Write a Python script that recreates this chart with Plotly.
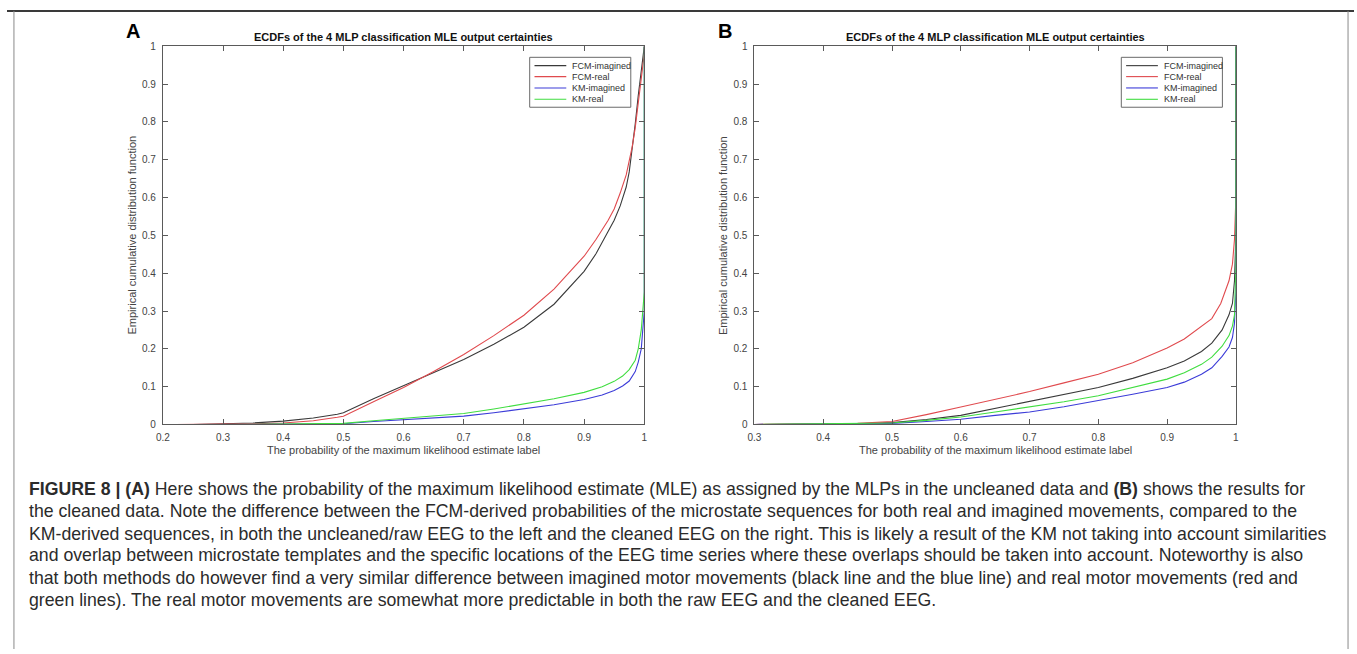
import plotly.graph_objects as go

# ---------------------------------------------------------------
# ECDF values of the MLE label probability, per method and movement
# ---------------------------------------------------------------
series_names = ["FCM-imagined", "FCM-real", "KM-imagined", "KM-real"]
series_colors = ["#3a3a3a", "#e04a4e", "#3c3cd8", "#40dd40"]

# Panel A: uncleaned / raw EEG
a_fcm_imag_x = [0.25, 0.30, 0.35, 0.40, 0.45, 0.49, 0.50, 0.55, 0.60, 0.65, 0.70, 0.75, 0.80,
                0.85, 0.90, 0.92, 0.94, 0.95, 0.96, 0.97, 0.975, 0.98, 0.985, 0.99, 0.995, 1.0]
a_fcm_imag_y = [0.0, 0.001, 0.004, 0.009, 0.017, 0.027, 0.031, 0.068, 0.103, 0.137, 0.172,
                0.212, 0.257, 0.318, 0.405, 0.452, 0.508, 0.540, 0.578, 0.628, 0.668, 0.725,
                0.795, 0.870, 0.940, 1.0]
a_fcm_real_x = [0.22, 0.30, 0.35, 0.40, 0.45, 0.49, 0.50, 0.55, 0.60, 0.65, 0.70, 0.75, 0.80,
                0.85, 0.90, 0.92, 0.94, 0.95, 0.96, 0.97, 0.975, 0.98, 0.985, 0.99, 0.995,
                1.0, 1.0]
a_fcm_real_y = [0.0, 0.0005, 0.002, 0.004, 0.010, 0.019, 0.022, 0.060, 0.098, 0.140, 0.185,
                0.235, 0.289, 0.358, 0.445, 0.490, 0.540, 0.570, 0.612, 0.660, 0.695, 0.735,
                0.785, 0.845, 0.910, 0.980, 1.0]
a_km_imag_x = [0.30, 0.40, 0.50, 0.55, 0.60, 0.65, 0.70, 0.75, 0.80, 0.85, 0.90, 0.93, 0.95,
               0.964, 0.975, 0.985, 0.99, 0.995, 1.0, 1.0]
a_km_imag_y = [0.0, 0.0005, 0.002, 0.008, 0.013, 0.017, 0.022, 0.031, 0.041, 0.052, 0.066,
               0.078, 0.090, 0.102, 0.115, 0.140, 0.165, 0.200, 0.300, 1.0]
a_km_real_x = [0.30, 0.40, 0.50, 0.55, 0.60, 0.65, 0.70, 0.75, 0.80, 0.85, 0.90, 0.93, 0.95,
               0.964, 0.975, 0.985, 0.99, 0.995, 1.0, 1.0]
a_km_real_y = [0.0, 0.0008, 0.003, 0.010, 0.016, 0.022, 0.029, 0.041, 0.054, 0.068, 0.085,
               0.100, 0.114, 0.128, 0.145, 0.170, 0.200, 0.250, 0.350, 1.0]

# Panel B: cleaned EEG
b_fcm_imag_x = [0.30, 0.40, 0.45, 0.50, 0.55, 0.60, 0.65, 0.70, 0.75, 0.80, 0.85, 0.90, 0.925,
                0.95, 0.965, 0.98, 0.99, 0.995, 0.998, 1.0, 1.0]
b_fcm_imag_y = [0.0, 0.0005, 0.002, 0.005, 0.013, 0.024, 0.043, 0.062, 0.080, 0.098, 0.122,
                0.150, 0.168, 0.193, 0.215, 0.250, 0.290, 0.320, 0.380, 0.500, 1.0]
b_fcm_real_x = [0.30, 0.40, 0.45, 0.50, 0.55, 0.60, 0.65, 0.70, 0.75, 0.80, 0.85, 0.90, 0.925,
                0.95, 0.965, 0.978, 0.99, 0.995, 0.998, 1.0, 1.0]
b_fcm_real_y = [0.0, 0.001, 0.003, 0.008, 0.026, 0.046, 0.066, 0.087, 0.110, 0.133, 0.163,
                0.202, 0.226, 0.259, 0.280, 0.320, 0.380, 0.424, 0.490, 0.600, 1.0]
b_km_imag_x = [0.30, 0.45, 0.50, 0.55, 0.60, 0.65, 0.70, 0.75, 0.80, 0.85, 0.90, 0.925, 0.95,
               0.965, 0.98, 0.99, 0.995, 0.998, 1.0, 1.0]
b_km_imag_y = [0.0, 0.001, 0.003, 0.008, 0.014, 0.024, 0.033, 0.047, 0.063, 0.080, 0.098,
               0.112, 0.133, 0.150, 0.180, 0.205, 0.230, 0.268, 0.350, 1.0]
b_km_real_x = [0.30, 0.45, 0.50, 0.55, 0.60, 0.65, 0.70, 0.75, 0.80, 0.85, 0.90, 0.925, 0.95,
               0.965, 0.98, 0.99, 0.995, 0.998, 1.0, 1.0]
b_km_real_y = [0.0, 0.002, 0.004, 0.011, 0.020, 0.033, 0.046, 0.060, 0.076, 0.097, 0.120,
               0.137, 0.159, 0.178, 0.207, 0.235, 0.260, 0.290, 0.420, 1.0]

y_ticks = [0, 0.1, 0.2, 0.3, 0.4, 0.5, 0.6, 0.7, 0.8, 0.9, 1]
y_tick_text = ["0", "0.1", "0.2", "0.3", "0.4", "0.5", "0.6", "0.7", "0.8", "0.9", "1"]
a_x_ticks = [0.2, 0.3, 0.4, 0.5, 0.6, 0.7, 0.8, 0.9, 1]
a_x_tick_text = ["0.2", "0.3", "0.4", "0.5", "0.6", "0.7", "0.8", "0.9", "1"]
b_x_ticks = [0.3, 0.4, 0.5, 0.6, 0.7, 0.8, 0.9, 1]
b_x_tick_text = ["0.3", "0.4", "0.5", "0.6", "0.7", "0.8", "0.9", "1"]

panel_title = "ECDFs of the 4 MLP classification MLE output certainties"
x_title = "The probability of the maximum likelihood estimate label"
y_title = "Empirical cumulative distribution function"

caption_lines = [
    "<b>FIGURE 8 | (A)</b> Here shows the probability of the maximum likelihood estimate (MLE) as assigned by the MLPs in the uncleaned data and <b>(B)</b> shows the results for",
    "the cleaned data. Note the difference between the FCM-derived probabilities of the microstate sequences for both real and imagined movements, compared to the",
    "KM-derived sequences, in both the uncleaned/raw EEG to the left and the cleaned EEG on the right. This is likely a result of the KM not taking into account similarities",
    "and overlap between microstate templates and the specific locations of the EEG time series where these overlaps should be taken into account. Noteworthy is also",
    "that both methods do however find a very similar difference between imagined motor movements (black line and the blue line) and real motor movements (red and",
    "green lines). The real motor movements are somewhat more predictable in both the raw EEG and the cleaned EEG.",
]

# ---------------------------------------------------------------
W, H = 1357, 654
FONT = "Liberation Sans, Arial, Helvetica, sans-serif"
AX_COL = "#5a5a5a"

def px_x(p):
    return p / W

def px_y(p):
    return 1 - p / H

fig = go.Figure()

panels = [
    dict(letter="A", xa="x", ya="y",
         data=[(a_fcm_imag_x, a_fcm_imag_y), (a_fcm_real_x, a_fcm_real_y),
               (a_km_imag_x, a_km_imag_y), (a_km_real_x, a_km_real_y)],
         xr=[0.2, 1], xt=a_x_ticks, xtt=a_x_tick_text, dom=[157, 642]),
    dict(letter="B", xa="x2", ya="y2",
         data=[(b_fcm_imag_x, b_fcm_imag_y), (b_fcm_real_x, b_fcm_real_y),
               (b_km_imag_x, b_km_imag_y), (b_km_real_x, b_km_real_y)],
         xr=[0.3, 1], xt=b_x_ticks, xtt=b_x_tick_text, dom=[753, 1238]),
]

y_dom = [px_y(426), px_y(42)]

for k, p in enumerate(panels):
    for (xs, ys), name, col in zip(p["data"], series_names, series_colors):
        fig.add_trace(go.Scatter(x=xs, y=ys, mode="lines", name=name,
                                 line=dict(color=col, width=1.1),
                                 xaxis=p["xa"], yaxis=p["ya"], showlegend=False))
    sfx = "" if k == 0 else "2"
    axis_common = dict(showline=True, linecolor=AX_COL, linewidth=1, mirror="ticks",
                       ticks="inside", ticklen=5, tickcolor=AX_COL, showgrid=False,
                       zeroline=False, tickfont=dict(family=FONT, size=10, color="#444444"))
    fig.update_layout(**{
        "xaxis" + sfx: dict(domain=[px_x(p["dom"][0]), px_x(p["dom"][1])], range=p["xr"],
                            tickvals=p["xt"], ticktext=p["xtt"], anchor="y" + sfx,
                            ticklabelstandoff=4, **axis_common),
        "yaxis" + sfx: dict(domain=y_dom, range=[0, 1], tickvals=y_ticks,
                            ticktext=y_tick_text, anchor="x" + sfx,
                            ticklabelstandoff=4, **axis_common),
    })

    xd = p["xa"] + " domain"
    yd = p["ya"] + " domain"
    # panel title
    fig.add_annotation(text="<b>" + panel_title + "</b>", xref=xd, yref="paper",
                       x=0.5, y=px_y(33), xanchor="center", yanchor="middle",
                       showarrow=False, font=dict(family=FONT, size=11, color="#111111"))
    # axis titles
    fig.add_annotation(text=x_title, xref=xd, yref="paper", x=0.5, y=px_y(452),
                       xanchor="center", yanchor="middle", showarrow=False,
                       font=dict(family=FONT, size=11, color="#444444"))
    fig.add_annotation(text=y_title, xref="paper", yref=yd,
                       x=px_x(p["dom"][0] - 31), y=0.5, textangle=-90,
                       xanchor="center", yanchor="middle", showarrow=False,
                       font=dict(family=FONT, size=11, color="#444444"))
    # panel letter
    fig.add_annotation(text="<b>" + p["letter"] + "</b>", xref="paper", yref="paper",
                       x=px_x(p["dom"][0] - 30), y=px_y(26), xanchor="center",
                       yanchor="middle", showarrow=False,
                       font=dict(family=FONT, size=20, color="#000000"))

    # legend box in the upper-right corner of each panel
    lx0, lx1, ly0, ly1 = 0.762, 0.972, 0.839, 0.971
    fig.add_shape(type="rect", xref=xd, yref=yd, x0=lx0, x1=lx1, y0=ly0, y1=ly1,
                  line=dict(color="#6a6a6a", width=1), fillcolor="white", layer="above")
    row_y = [0.949, 0.920, 0.890, 0.860]
    for ry, name, col in zip(row_y, series_names, series_colors):
        fig.add_shape(type="line", xref=xd, yref=yd, x0=0.772, x1=0.838, y0=ry, y1=ry,
                      line=dict(color=col, width=1.1), layer="above")
        fig.add_annotation(text=name, xref=xd, yref=yd, x=0.846, y=ry, xanchor="left",
                           yanchor="middle", showarrow=False,
                           font=dict(family=FONT, size=9, color="#333333"))

# page frame: rule on top, thin side borders
fig.add_shape(type="line", xref="paper", yref="paper", x0=0, x1=1, y0=px_y(6), y1=px_y(6),
              line=dict(color="#3a3a3a", width=2))
for bx in (7, 1351):
    fig.add_shape(type="line", xref="paper", yref="paper", x0=px_x(bx), x1=px_x(bx),
                  y0=0, y1=px_y(6), line=dict(color="#8a8a8a", width=1))

# caption
cap_y = [492, 514, 537, 559, 582, 604]
for txt, cy in zip(caption_lines, cap_y):
    fig.add_annotation(text=txt, xref="paper", yref="paper", x=px_x(20), y=px_y(cy),
                       xanchor="left", yanchor="middle", showarrow=False, align="left",
                       font=dict(family=FONT, size=17.7, color="#2b2b2b"))

fig.update_layout(width=W, height=H, autosize=False, margin=dict(l=0, r=0, t=0, b=0),
                  paper_bgcolor="white", plot_bgcolor="white", showlegend=False)

fig.write_html("out.html")
